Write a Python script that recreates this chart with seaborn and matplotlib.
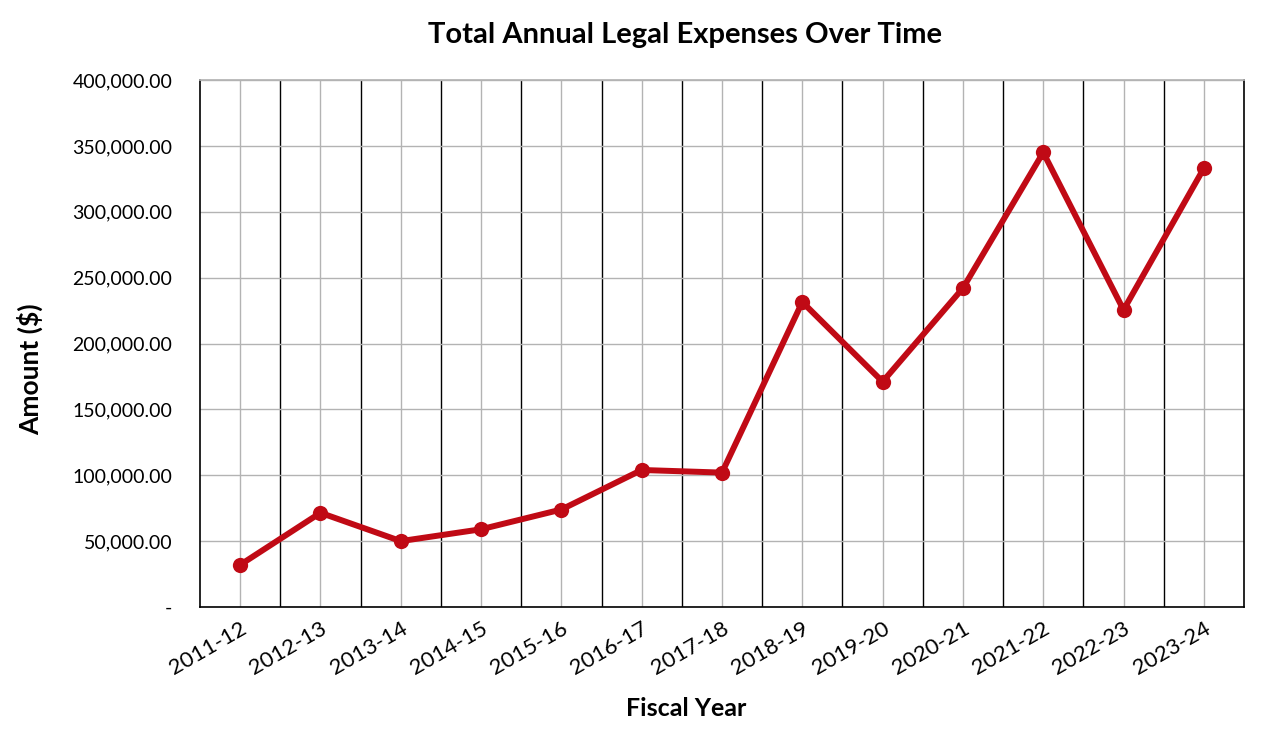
import matplotlib
matplotlib.use('Agg')
import matplotlib.pyplot as plt
import matplotlib.ticker as mticker
import seaborn as sns
import pandas as pd

# Fiscal years and total legal expenses
fiscal_years = ['2011-12', '2012-13', '2013-14', '2014-15', '2015-16', '2016-17', '2017-18',
                '2018-19', '2019-20', '2020-21', '2021-22', '2022-23', '2023-24']
amounts = [32000, 71500, 50000, 59000, 74000, 104000, 102000,
           231500, 171000, 242000, 345000, 225500, 333000]
y_ticks = [0, 50000, 100000, 150000, 200000, 250000, 300000, 350000, 400000]

df = pd.DataFrame({'year': fiscal_years, 'amount': amounts})

sns.set_theme(style='white')
plt.rcParams['font.family'] = ['Lato', 'DejaVu Sans']
plt.rcParams['text.color'] = 'black'
plt.rcParams['xtick.color'] = 'black'
plt.rcParams['ytick.color'] = 'black'

W, H = 1264, 734
fig = plt.figure(figsize=(W / 100, H / 100), dpi=100)
ax = fig.add_axes([200 / W, 1 - 607 / H, 1044 / W, 527 / H])

sns.lineplot(data=df, x='year', y='amount', ax=ax, color='#C00A15',
             linewidth=4.3, marker='o', markersize=11, markeredgewidth=0,
             sort=False, zorder=5)

n = len(fiscal_years)
ax.set_xlim(-0.5, n - 0.5)
ax.set_ylim(0, 400000)
ax.set_yticks(y_ticks)
ax.yaxis.set_major_formatter(mticker.FuncFormatter(
    lambda v, p: '-' if v == 0 else f'{v:,.2f}'))

# gray gridlines at category centres and value ticks, black at category boundaries
ax.grid(True, which='major', color='#b3b3b3', linewidth=1)
ax.set_xticks([i + 0.5 for i in range(n - 1)], minor=True)
ax.grid(True, which='minor', axis='x', color='black', linewidth=1)
ax.set_axisbelow(True)

for side in ['left', 'bottom', 'right']:
    ax.spines[side].set_color('black')
    ax.spines[side].set_linewidth(1.2)
ax.spines['top'].set_color('#b3b3b3')

ax.tick_params(axis='both', which='both', length=0)
ax.tick_params(axis='y', labelsize=14, pad=20)
ax.tick_params(axis='x', labelsize=16, pad=8)
plt.setp(ax.get_xticklabels(), rotation=30, ha='right', rotation_mode='anchor')

ax.set_xlabel('')
ax.set_ylabel('')
fig.text(685 / W, 1 - 35 / H, 'Total Annual Legal Expenses Over Time',
         fontsize=21, fontweight='bold', ha='center', va='center')
fig.text(686 / W, 1 - 708 / H, 'Fiscal Year',
         fontsize=18, fontweight='bold', ha='center', va='center')
fig.text(30 / W, 1 - 369 / H, 'Amount ($)', rotation=90,
         fontsize=19, fontweight='bold', ha='center', va='center')

fig.savefig('out.png', dpi=100)
